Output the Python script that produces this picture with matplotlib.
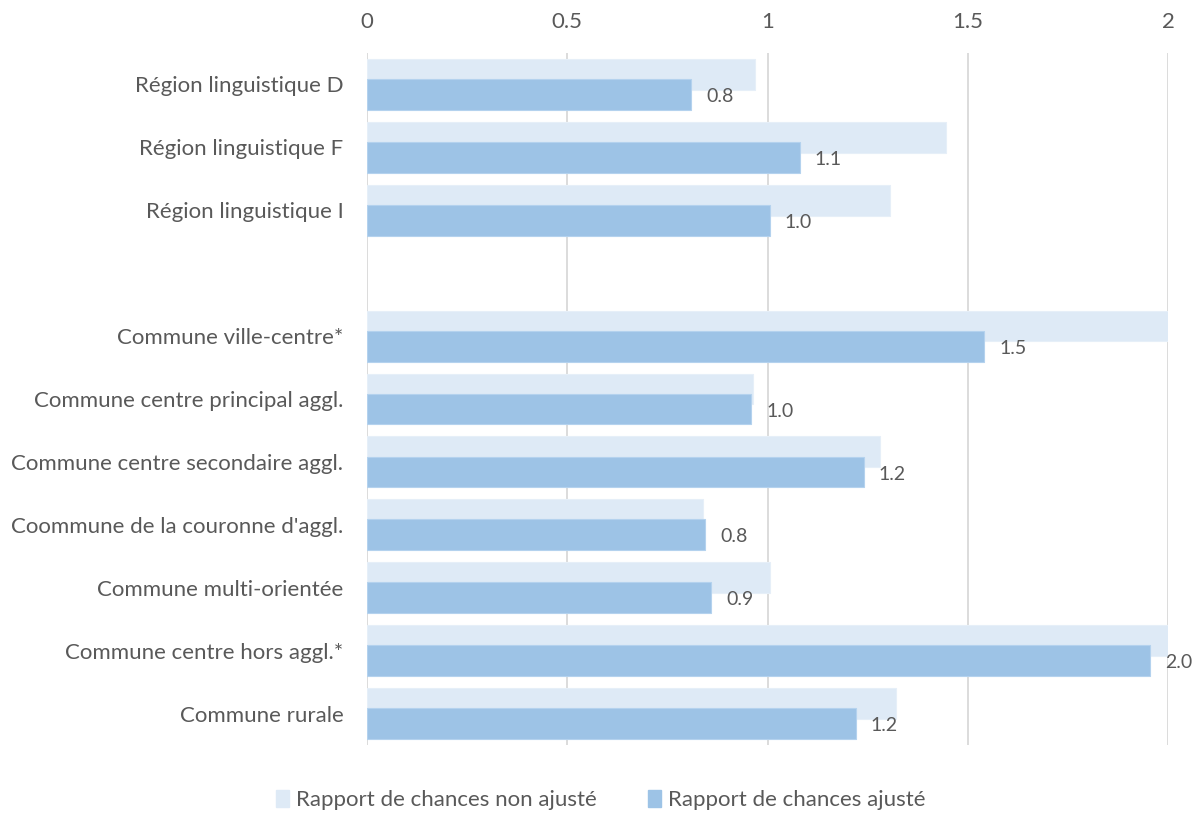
import matplotlib
matplotlib.use("Agg")
import matplotlib.pyplot as plt
import numpy as np
from matplotlib.patches import Patch

plt.rcParams['font.family'] = ['Lato', 'DejaVu Sans']

categories = ["Région linguistique D", "Région linguistique F", "Région linguistique I", "",
              "Commune ville-centre*", "Commune centre principal aggl.",
              "Commune centre secondaire aggl.", "Coommune de la couronne d'aggl.",
              "Commune multi-orientée", "Commune centre hors aggl.*", "Commune rurale"]
non_ajuste = [0.97, 1.445, 1.305, np.nan, 2.0, 0.965, 1.28, 0.84, 1.005, 2.0, 1.32]
ajuste = [0.81, 1.08, 1.005, np.nan, 1.54, 0.96, 1.24, 0.845, 0.86, 1.955, 1.22]
ajuste_labels = ["0.8", "1.1", "1.0", "", "1.5", "1.0", "1.2", "0.8", "0.9", "2.0", "1.2"]
xticks = [0, 0.5, 1, 1.5, 2]
xticklabels = ["0", "0.5", "1", "1.5", "2"]
series_names = ["Rapport de chances non ajusté", "Rapport de chances ajusté"]

c_light = "#deeaf6"
c_dark = "#9dc3e6"
txt = "#595959"

fig = plt.figure(figsize=(12.01, 8.13), dpi=100)
ax = fig.add_axes([367/1201, 1-745/813, (1168-367)/1201, (745-53)/813])

y = np.arange(len(categories))
h = 0.49
off = 0.16
ax.barh(y - off, non_ajuste, height=h, color=c_light, edgecolor="#e6eff8", linewidth=0.8, zorder=2)
ax.barh(y + off, ajuste, height=h, color=c_dark, edgecolor="#b4d2ee", linewidth=0.8, zorder=3)

for yi, v, lab in zip(y, ajuste, ajuste_labels):
    if lab:
        ax.annotate(lab, xy=(v, yi + off), xytext=(11, -1.5), textcoords="offset points",
                    ha="left", va="center", fontsize=14, color=txt, zorder=4,
                    annotation_clip=False)

ax.set_xlim(0, 2)
ax.set_ylim(len(categories) - 0.5, -0.5)
ax.set_xticks(xticks)
ax.set_xticklabels(xticklabels)
ax.xaxis.tick_top()
ax.tick_params(axis="x", length=0, pad=15, labelsize=16, labelcolor=txt)
ax.set_yticks(y)
ax.set_yticklabels(categories)
ax.tick_params(axis="y", length=0, pad=17, labelsize=16, labelcolor=txt)
ax.grid(axis="x", color="#d9d9d9", linewidth=1.3, zorder=0)
ax.set_axisbelow(True)
for s in ax.spines.values():
    s.set_visible(False)

handles = [Patch(facecolor=c_light, edgecolor=c_light), Patch(facecolor=c_dark, edgecolor=c_dark)]
fig.legend(handles, series_names, loc="center", bbox_to_anchor=(0.5, 1-800/813), ncol=2,
           frameon=False, fontsize=16, handlelength=0.6, handleheight=0.8, handletextpad=0.3,
           columnspacing=2.3, labelcolor=txt)

fig.savefig("out.png", dpi=100)
